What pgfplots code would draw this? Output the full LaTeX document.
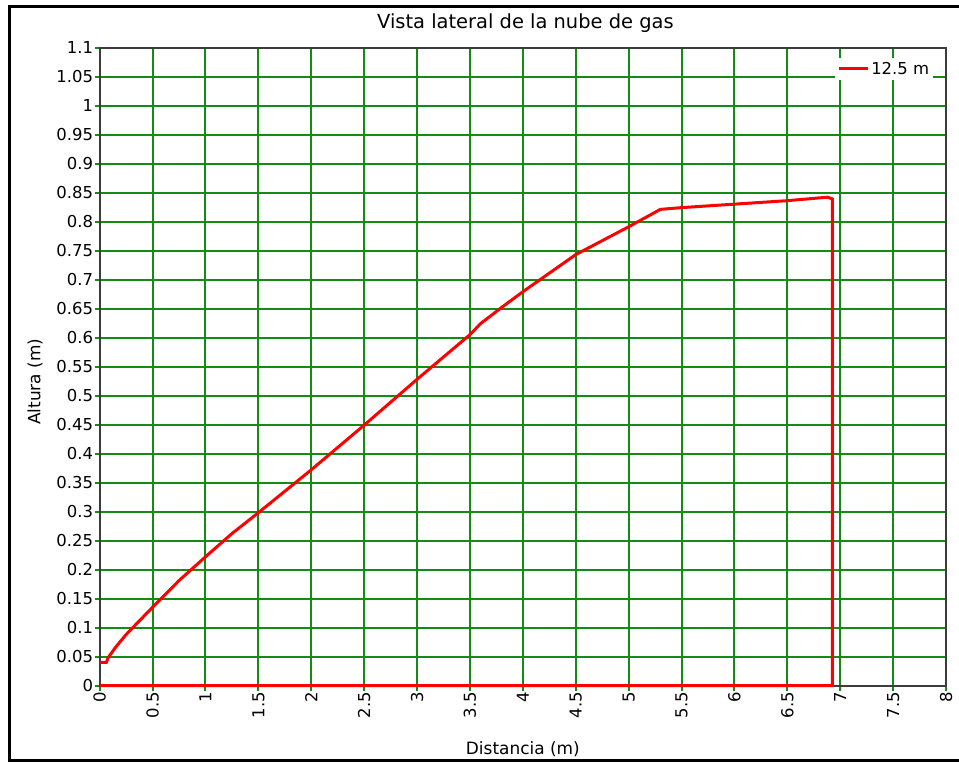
\documentclass[border=0pt]{standalone}
\usepackage{fontspec}
\setmainfont{DejaVu Sans}
\usepackage{pgfplots}
\pgfplotsset{compat=1.18}
\definecolor{gridgreen}{RGB}{20,140,20}
\definecolor{axisgray}{RGB}{60,60,60}
\begin{document}
\begin{tikzpicture}
\useasboundingbox (-100pt,-77.3pt) rectangle (862pt,687.7pt);
\begin{axis}[
    scale only axis,
    width=849pt, height=640pt,
    xmin=0, xmax=8, ymin=0, ymax=1.1,
    xtick distance=0.5, ytick distance=0.05,
    xtick pos=bottom, ytick pos=left,
    tick align=outside, major tick length=5pt,
    tick style={draw=gridgreen, line width=2pt},
    grid=major,
    major grid style={draw=gridgreen, line width=2pt},
    axis line style={draw=axisgray, line width=2pt},
    clip=false,
    /pgf/number format/assume math mode=true,
    /pgf/number format/fixed, /pgf/number format/precision=2,
    ticklabel style={font=\fontsize{16.5}{18}\selectfont, inner sep=1.5pt},
    x tick label style={rotate=90, anchor=east, inner ysep=0pt},
    title={Vista lateral de la nube de gas},
    title style={at={(axis description cs:0.503,1.02)}, anchor=base, font=\fontsize{19.5}{22}\selectfont},
    xlabel={Distancia (m)},
    xlabel style={at={(axis description cs:0.5,-0.1)}, anchor=center, font=\fontsize{17}{20}\selectfont},
    ylabel={Altura (m)},
    ylabel style={at={(axis description cs:-0.0764,0.476)}, anchor=center, font=\fontsize{17}{20}\selectfont},
    legend style={at={(axis description cs:0.985,0.984)}, anchor=north east,
        draw=none, fill=white, inner sep=2pt,
        font=\fontsize{16.5}{18}\selectfont,
        nodes={inner sep=2pt}},
    legend image code/.code={\draw[#1] (0pt,0pt) -- (29pt,0pt);},
]
\addplot[red, line width=3pt] coordinates {
    (0,0.04) (0.063,0.04) (0.08,0.048) (0.15,0.066) (0.25,0.088)
    (0.5,0.135) (0.75,0.181) (1,0.222) (1.25,0.262) (1.5,0.298)
    (2,0.372) (2.5,0.449) (3,0.528) (3.5,0.605) (3.6,0.624)
    (3.8,0.652) (4,0.679) (4.5,0.743) (5,0.791) (5.3,0.821) (5.5,0.824)
    (6,0.830) (6.5,0.836) (6.88,0.842) (6.925,0.839) (6.925,0) (0,0)
};
\legend{12.5 m}
\end{axis}
\draw[line width=3pt] (875pt,680.7pt) -- (-90pt,680.7pt) -- (-90pt,-75.3pt) -- (875pt,-75.3pt);
\end{tikzpicture}
\end{document}
